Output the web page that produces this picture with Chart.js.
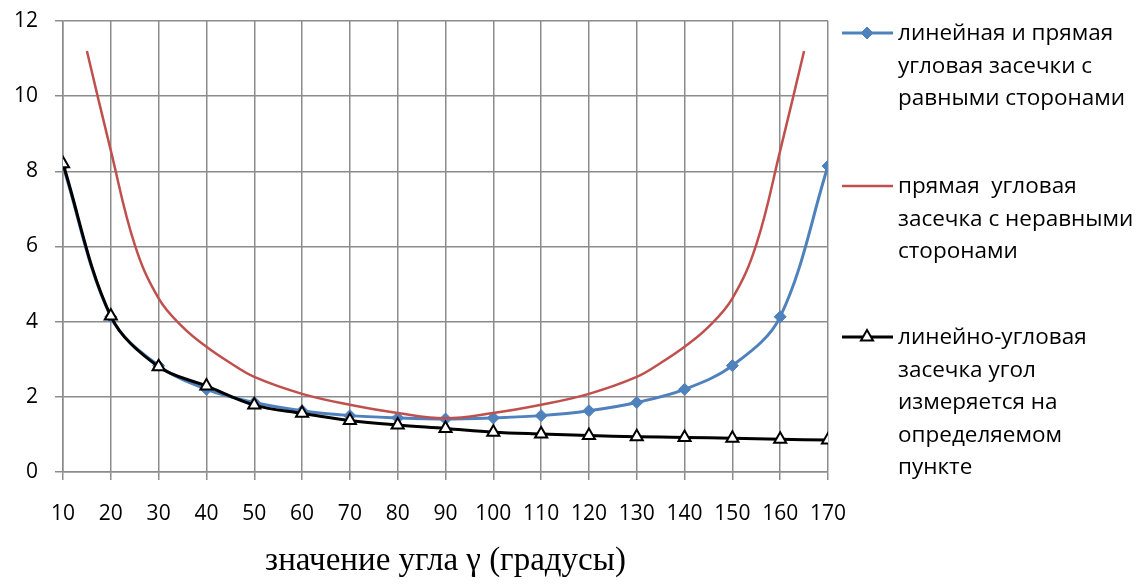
<!DOCTYPE html>
<html>
<head>
<meta charset="utf-8">
<script src="https://cdn.jsdelivr.net/npm/chart.js"></script>
<style>
  html, body { margin: 0; padding: 0; background: #fff; }
  #wrap { width: 1141px; height: 585px; }
</style>
</head>
<body>
<div id="wrap"><canvas id="chart" width="1141" height="585"></canvas></div>
<script>
// angle values (degrees)
var angles = [10, 20, 30, 40, 50, 60, 70, 80, 90, 100, 110, 120, 130, 140, 150, 160, 170];
// linear and direct intersection, equal sides
var equalSides = [8.14, 4.13, 2.83, 2.2, 1.85, 1.63, 1.5, 1.44, 1.41, 1.44, 1.5, 1.63, 1.85, 2.2, 2.83, 4.13, 8.14];
// linear-angular intersection
var linearAngular = [8.2, 4.15, 2.8, 2.29, 1.78, 1.56, 1.37, 1.25, 1.16, 1.06, 1.01, 0.97, 0.94, 0.92, 0.9, 0.87, 0.85];
// direct intersection, unequal sides
var unequalAngles = [15, 20, 25, 30, 35, 40, 45, 50, 60, 70, 80, 90, 100, 110, 120, 130, 135, 140, 145, 150, 155, 160, 165];
var unequalSides = [11.2, 8.55, 6.05, 4.62, 3.86, 3.33, 2.9, 2.53, 2.08, 1.79, 1.57, 1.43, 1.57, 1.79, 2.08, 2.53, 2.9, 3.33, 3.86, 4.62, 6.05, 8.55, 11.2];

var yTicks = [0, 2, 4, 6, 8, 10, 12];

var legendLabels = [
    ['линейная и прямая', 'угловая засечки с', 'равными сторонами'],
    ['прямая  угловая', 'засечка с неравными', 'сторонами'],
    ['линейно-угловая', 'засечка угол', 'измеряется на', 'определяемом', 'пункте']
];

var tickFont = { family: 'Open Sans', size: 21 };

function toPoints(xs, ys) {
    return xs.map(function (x, i) { return { x: x, y: ys[i] }; });
}

// draws the legend on the right side, with wrapped text
var sideLegend = {
    id: 'sideLegend',
    afterDraw: function (chart) {
        var ctx = chart.ctx;
        var order = [0, 1, 2];
        var tops = [33, 186, 337];
        ctx.save();
        order.forEach(function (dsIndex, k) {
            var ds = chart.data.datasets[dsIndex];
            var y = tops[k];
            ctx.strokeStyle = ds.borderColor;
            ctx.lineWidth = ds.borderWidth;
            ctx.beginPath();
            ctx.moveTo(842, y);
            ctx.lineTo(893, y);
            ctx.stroke();
            if (ds.pointRadius > 0) {
                ctx.fillStyle = ds.pointBackgroundColor;
                ctx.strokeStyle = ds.pointBorderColor;
                ctx.lineWidth = ds.pointBorderWidth;
                Chart.helpers.drawPoint(ctx, {
                    pointStyle: ds.pointStyle,
                    radius: ds.pointRadius,
                    borderWidth: ds.pointBorderWidth,
                    rotation: 0
                }, 867, y);
            }
            ctx.fillStyle = '#000';
            ctx.font = '22.5px "Open Sans"';
            ctx.textBaseline = 'middle';
            ctx.textAlign = 'left';
            legendLabels[dsIndex].forEach(function (line, j) {
                ctx.fillText(line, 898, y + 1 + j * 32.5);
            });
        });
        ctx.restore();
    }
};

new Chart(document.getElementById('chart'), {
    type: 'line',
    data: {
        datasets: [{
            label: legendLabels[0].join(' '),
            data: toPoints(angles, equalSides),
            borderColor: '#4F81BD',
            backgroundColor: '#4F81BD',
            borderWidth: 3,
            pointStyle: 'rectRot',
            pointRadius: 6,
            pointBackgroundColor: '#4F81BD',
            pointBorderColor: '#4F81BD',
            pointBorderWidth: 1,
            tension: 0.35,
            order: 2
        }, {
            label: legendLabels[1].join(' '),
            data: toPoints(unequalAngles, unequalSides),
            borderColor: '#C0504D',
            backgroundColor: '#C0504D',
            borderWidth: 2.5,
            pointRadius: 0,
            pointBorderWidth: 0,
            tension: 0.4,
            order: 1
        }, {
            label: legendLabels[2].join(' '),
            data: toPoints(angles, linearAngular),
            borderColor: '#000000',
            backgroundColor: '#ffffff',
            borderWidth: 3,
            pointStyle: 'triangle',
            pointRadius: 7,
            pointBackgroundColor: '#ffffff',
            pointBorderColor: '#000000',
            pointBorderWidth: 2,
            tension: 0.35,
            order: 0
        }]
    },
    options: {
        responsive: false,
        animation: false,
        layout: { padding: { top: 21, right: 313, left: 0, bottom: 0 } },
        plugins: {
            legend: { display: false },
            tooltip: { enabled: false }
        },
        scales: {
            x: {
                type: 'linear',
                min: angles[0],
                max: angles[angles.length - 1],
                afterBuildTicks: function (scale) {
                    scale.ticks = angles.map(function (v) { return { value: v }; });
                },
                grid: { color: '#8c8c8c', lineWidth: 1.5, tickLength: 8 },
                border: { color: '#8c8c8c', width: 1.5 },
                ticks: { color: '#000', font: tickFont, padding: 21, maxRotation: 0, autoSkip: false },
                title: {
                    display: true,
                    text: 'значение угла γ (градусы)',
                    color: '#000',
                    font: { family: 'Liberation Serif', size: 33 },
                    padding: { top: 0, bottom: 4 }
                },
                afterFit: function (scale) {
                    scale.height = 113;
                    scale.paddingLeft = 0;
                    scale.paddingRight = 0;
                }
            },
            y: {
                min: 0,
                max: 12,
                afterBuildTicks: function (scale) {
                    scale.ticks = yTicks.map(function (v) { return { value: v }; });
                },
                grid: { color: '#8c8c8c', lineWidth: 1.5, tickLength: 8 },
                border: { color: '#8c8c8c', width: 1.5 },
                ticks: { color: '#000', font: tickFont, padding: 17 },
                afterFit: function (scale) {
                    scale.width = 63;
                    scale.paddingTop = 0;
                    scale.paddingBottom = 0;
                }
            }
        }
    },
    plugins: [sideLegend]
});
</script>
</body>
</html>
